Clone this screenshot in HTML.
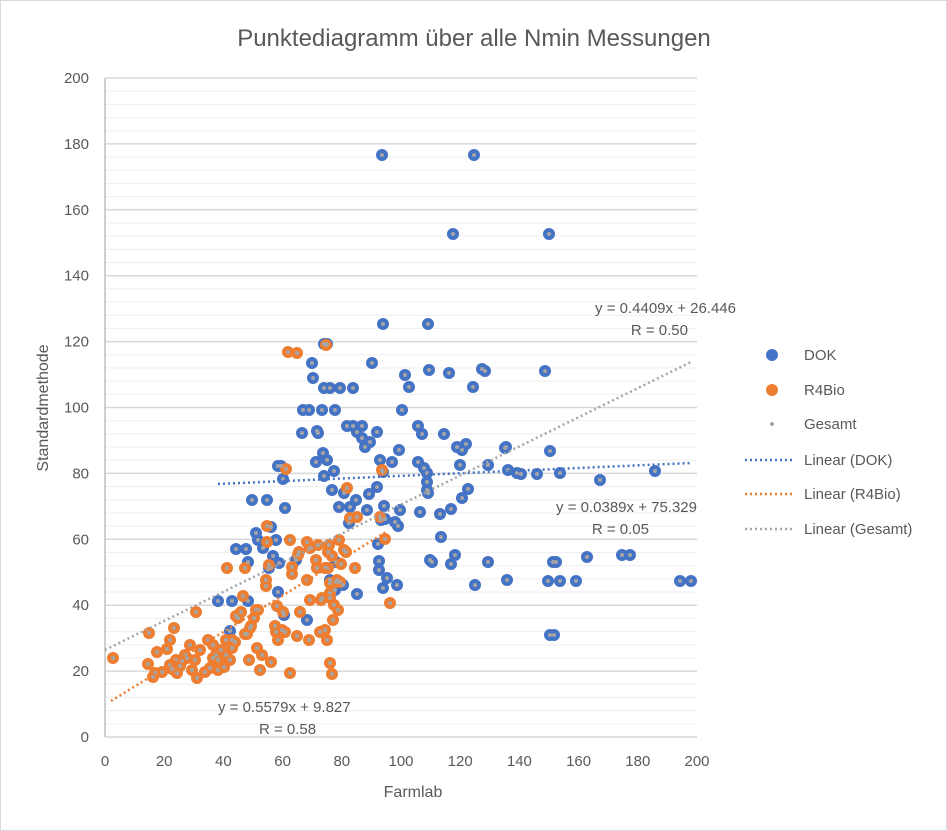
<!DOCTYPE html>
<html><head><meta charset="utf-8"><style>
body{margin:0;background:#fff}
svg{display:block;font-family:"Liberation Sans",sans-serif}
</style></head><body>
<svg width="947" height="831" viewBox="0 0 947 831" xmlns="http://www.w3.org/2000/svg">
<rect x="0.5" y="0.5" width="946" height="830" fill="#fff" stroke="#d9d9d9"/>
<text x="474" y="46" font-size="24" fill="#595959" text-anchor="middle">Punktediagramm über alle Nmin Messungen</text>
<g id="grid"></g>
<line x1="105" y1="78" x2="105" y2="737" stroke="#bfbfbf" stroke-width="1.5"/>
<g font-size="15" fill="#595959" text-anchor="end" id="ylab"></g>
<g font-size="15" fill="#595959" text-anchor="middle" id="xlab"></g>
<text x="413" y="797" font-size="16" fill="#595959" text-anchor="middle">Farmlab</text>
<text transform="translate(48,408) rotate(-90)" font-size="16" fill="#595959" text-anchor="middle">Standardmethode</text>
<g id="pts"></g>
<line x1="218" y1="484" x2="691" y2="463" stroke="#4472c4" stroke-width="2.5" stroke-dasharray="2,3"/>
<line x1="111" y1="701" x2="386" y2="532" stroke="#ed7d31" stroke-width="2.5" stroke-dasharray="2,3"/>
<line x1="105" y1="650" x2="691" y2="362" stroke="#a5a5a5" stroke-width="2.5" stroke-dasharray="2,3"/>
<g font-size="15" fill="#595959">
<text x="736" y="313" text-anchor="end">y = 0.4409x + 26.446</text>
<text x="688" y="335" text-anchor="end">R = 0.50</text>
<text x="697" y="512" text-anchor="end">y = 0.0389x + 75.329</text>
<text x="649" y="534" text-anchor="end">R = 0.05</text>
<text x="218" y="712">y = 0.5579x + 9.827</text>
<text x="259" y="734">R = 0.58</text>
</g>
<g font-size="15" fill="#595959">
<circle cx="772" cy="355" r="6" fill="#4472c4"/><text x="804" y="360">DOK</text>
<circle cx="772" cy="390" r="6" fill="#ed7d31"/><text x="804" y="395">R4Bio</text>
<circle cx="772" cy="424" r="2" fill="#a5a5a5"/><text x="804" y="429">Gesamt</text>
<line x1="745" y1="460" x2="795" y2="460" stroke="#4472c4" stroke-width="2.5" stroke-dasharray="2,3"/><text x="804" y="465">Linear (DOK)</text>
<line x1="745" y1="494" x2="795" y2="494" stroke="#ed7d31" stroke-width="2.5" stroke-dasharray="2,3"/><text x="804" y="499">Linear (R4Bio)</text>
<line x1="745" y1="529" x2="795" y2="529" stroke="#a5a5a5" stroke-width="2.5" stroke-dasharray="2,3"/><text x="804" y="534">Linear (Gesamt)</text>
</g>
<script>
var ns="http://www.w3.org/2000/svg";
function el(p,t,a,txt){var e=document.createElementNS(ns,t);for(var k in a)e.setAttribute(k,a[k]);if(txt!=null)e.textContent=txt;p.appendChild(e);return e;}
var g=document.getElementById("grid");
for(var v=0;v<=200;v+=4){var y=737-v*3.295;el(g,"line",{x1:105,x2:697,y1:y,y2:y,stroke:v%20==0?"#d9d9d9":"#f0f0f0","stroke-width":v%20==0?1.5:1.2});}
var yl=document.getElementById("ylab");
for(var v=0;v<=200;v+=20)el(yl,"text",{x:89,y:737-v*3.295+5},v);
var xl=document.getElementById("xlab");
for(var v=0;v<=200;v+=20)el(xl,"text",{x:105+v*2.96,y:766},v);
var blue=[[382,155],[474,155],[453,234],[549,234],[383,324],[428,324],[324,344],[327,344],[312,363],[324,388],[330,388],[340,388],[353,388],[372,363],[309,410],[313,378],[303,410],[322,410],[335,410],[405,375],[409,387],[429,370],[449,373],[482,369],[485,371],[545,371],[302,433],[318,433],[402,410],[473,387],[347,426],[353,426],[362,426],[357,432],[362,438],[365,447],[377,432],[380,460],[317,431],[327,460],[370,442],[392,462],[399,450],[418,426],[422,434],[418,462],[424,468],[444,434],[457,447],[462,450],[466,444],[460,465],[488,465],[506,447],[508,470],[550,451],[427,490],[427,482],[427,473],[323,453],[278,466],[281,466],[334,471],[324,476],[344,493],[350,507],[356,500],[349,523],[367,510],[369,494],[377,487],[383,472],[428,493],[420,512],[440,514],[451,509],[462,498],[468,489],[505,448],[517,473],[521,474],[560,473],[252,500],[267,500],[285,508],[258,540],[316,462],[332,490],[339,507],[283,479],[256,533],[236,549],[246,549],[263,548],[271,527],[276,540],[279,563],[269,568],[273,556],[278,592],[248,562],[296,560],[248,601],[232,601],[381,520],[384,506],[385,519],[398,526],[400,510],[378,544],[379,561],[379,570],[383,588],[335,590],[336,562],[397,585],[387,578],[430,560],[432,562],[451,564],[475,585],[507,580],[548,581],[553,562],[556,562],[587,557],[622,555],[630,555],[560,581],[576,581],[680,581],[691,581],[550,635],[554,635],[655,471],[600,480],[537,474],[230,631],[307,620],[284,615],[218,601],[330,580],[343,585],[357,594],[395,522],[441,537],[455,555],[488,562]];
var orange=[[113,658],[149,633],[148,664],[157,652],[155,673],[153,677],[162,672],[167,649],[170,640],[174,628],[170,665],[172,669],[176,660],[177,673],[180,666],[182,661],[185,655],[187,658],[190,645],[192,670],[196,612],[195,660],[197,678],[200,650],[205,672],[208,640],[210,668],[213,645],[213,658],[216,655],[218,660],[218,670],[221,650],[224,667],[226,640],[226,655],[227,568],[230,660],[232,648],[232,640],[235,642],[236,616],[238,618],[241,612],[243,596],[245,568],[245,634],[247,634],[249,660],[250,628],[251,626],[254,618],[256,610],[257,648],[258,610],[260,670],[262,655],[266,586],[266,580],[267,526],[267,542],[269,565],[271,662],[275,626],[276,632],[278,640],[277,606],[282,630],[283,612],[285,632],[286,469],[288,352],[290,540],[292,567],[292,574],[290,673],[297,353],[299,552],[298,555],[300,612],[297,636],[307,542],[307,580],[310,600],[309,640],[310,548],[316,560],[317,568],[318,545],[320,632],[322,598],[321,600],[325,568],[328,552],[329,545],[328,568],[330,593],[330,598],[332,556],[330,583],[332,674],[326,345],[337,580],[339,540],[341,564],[340,582],[344,550],[347,488],[346,552],[350,518],[355,568],[357,517],[380,517],[382,470],[385,539],[390,603],[330,663],[333,620],[334,605],[336,582],[338,610],[325,630],[327,640]];
var p=document.getElementById("pts");
blue.forEach(function(c){el(p,"circle",{cx:c[0],cy:c[1],r:6,fill:"#4472c4"});});
orange.forEach(function(c){el(p,"circle",{cx:c[0],cy:c[1],r:6,fill:"#ed7d31"});});
blue.concat(orange).forEach(function(c){el(p,"circle",{cx:c[0],cy:c[1],r:2,fill:"#a5a5a5"});});
</script>
</svg>
</body></html>
